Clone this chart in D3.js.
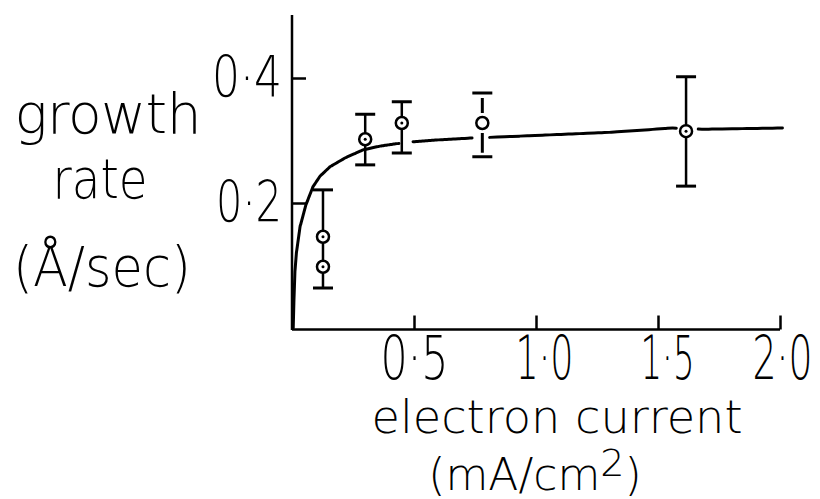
<!DOCTYPE html>
<html><head><meta charset="utf-8">
<script src="https://cdn.jsdelivr.net/npm/d3@7/dist/d3.min.js"></script>
<style>
body{margin:0;background:#fff;}
svg{display:block;}
text{font-family:"DejaVu Sans ExtraLight","DejaVu Sans Light","DejaVu Sans","Noto Sans",sans-serif;font-weight:200;fill:#000;}
</style></head>
<body><svg id="c" width="820" height="499"></svg>
<script>
// ---- data ----
const xTicks = [0.5, 1.0, 1.5, 2.0];
const yTicks = [0.2, 0.4];
const pointX = [0.127, 0.127, 0.30, 0.45, 0.78, 1.615];
const pointY = [0.146, 0.098, 0.302, 0.328, 0.328, 0.315];
const pointDot = [true, true, true, true, false, true];
const errX = [0.127, 0.30, 0.45, 0.78, 1.615];
const errLow = [0.064, 0.261, 0.280, 0.274, 0.227];
const errHigh = [0.221, 0.342, 0.362, 0.376, 0.402];
const curveX = [0.005, 0.008, 0.012, 0.018, 0.033, 0.057, 0.086, 0.115, 0.156, 0.217, 0.291, 0.36, 0.43, 0.496, 0.60, 0.738, 0.81, 1.057, 1.30, 1.56, 1.68, 2.01];
const curveY = [0.000, 0.045, 0.090, 0.120, 0.162, 0.197, 0.226, 0.243, 0.258, 0.272, 0.285, 0.291, 0.295, 0.298, 0.301, 0.304, 0.305, 0.309, 0.313, 0.320, 0.318, 0.320];
const curveGaps = [[0.44, 0.49], [0.745, 0.805], [1.575, 1.665]];

const svg = d3.select("#c");
const x = d3.scaleLinear().domain([0, 2]).range([292, 780]);
const y = d3.scaleLinear().domain([0, 0.4]).range([328, 78]);
const fmt = d => d.toFixed(1).replace(".", "\u00b7");

// horizontally squeeze a text to a target width (keeps its anchor point)
function squeeze(sel, widths, dxs, anchorX) {
  sel.each(function (d, i) {
    const w = this.getComputedTextLength();
    const s = widths[i] / w;
    const ax = anchorX ? anchorX(this) : 0;
    d3.select(this).attr("transform",
      `translate(${ax + (dxs ? dxs[i] : 0)},0) scale(${s},1) translate(${-ax},0)`);
  });
}

// axes lines
svg.append("line").attr("x1", 292).attr("x2", 292).attr("y1", 15).attr("y2", 330)
  .attr("stroke", "#000").attr("stroke-width", 2.5);
svg.append("line").attr("x1", 292).attr("x2", x(2)).attr("y1", 329.5).attr("y2", 329.5)
  .attr("stroke", "#000").attr("stroke-width", 2.5);

const xLabelW = [68, 58, 54, 60];
const xLabelDx = [0, 8, 9, 2];
const gx = svg.append("g").attr("transform", "translate(0,329.5)")
  .call(d3.axisBottom(x).tickValues(xTicks).tickSizeInner(-14).tickSizeOuter(0).tickPadding(6).tickFormat(fmt));
gx.select(".domain").remove();
gx.selectAll(".tick line").attr("stroke", "#000").attr("stroke-width", 2.5);
gx.selectAll(".tick text").attr("font-size", 61).attr("font-family", null);
squeeze(gx.selectAll(".tick text"), xLabelW, xLabelDx);

const yLabelW = [66, 70];
const gy = svg.append("g").attr("transform", "translate(292,0)")
  .call(d3.axisLeft(y).tickValues(yTicks).tickSizeInner(-14).tickSizeOuter(0).tickPadding(10).tickFormat(fmt));
gy.select(".domain").remove();
gy.selectAll(".tick line").attr("stroke", "#000").attr("stroke-width", 2.5);
gy.selectAll(".tick text").attr("font-size", 57).attr("font-family", null);
squeeze(gy.selectAll(".tick text"), yLabelW, null, () => -10);

// curve
const cdata = curveX.map((v, i) => [v, curveY[i]]);
const inGap = v => curveGaps.some(g => v > g[0] && v < g[1]);
const dense = [];
for (let i = 0; i < cdata.length - 1; i++) {
  const [x0, y0] = cdata[i], [x1, y1] = cdata[i + 1];
  const n = 8;
  for (let k = 0; k < n; k++) {
    const t = k / n;
    dense.push([x0 + (x1 - x0) * t, y0 + (y1 - y0) * t]);
  }
}
dense.push(cdata[cdata.length - 1]);
const line = d3.line().defined(d => !inGap(d[0])).x(d => x(d[0])).y(d => y(d[1])).curve(d3.curveMonotoneX);
svg.append("path").attr("d", line(dense)).attr("fill", "none").attr("stroke", "#000").attr("stroke-width", 3).attr("stroke-linecap", "round");

// error bars
const eb = svg.append("g");
errX.forEach((v, i) => {
  const cx = x(v);
  const broken = i === 3;
  if (broken) {
    const py = y(pointY[4]);
    eb.append("line").attr("x1", cx).attr("x2", cx).attr("y1", y(errHigh[i]) + 5).attr("y2", py - 10).attr("stroke", "#000").attr("stroke-width", 3);
    eb.append("line").attr("x1", cx).attr("x2", cx).attr("y1", py + 10).attr("y2", y(errLow[i]) - 4).attr("stroke", "#000").attr("stroke-width", 3);
  } else {
    eb.append("line").attr("x1", cx).attr("x2", cx).attr("y1", y(errHigh[i])).attr("y2", y(errLow[i])).attr("stroke", "#000").attr("stroke-width", 2.5);
  }
  [errHigh[i], errLow[i]].forEach(e => {
    eb.append("line").attr("x1", cx - 10).attr("x2", cx + 10).attr("y1", y(e)).attr("y2", y(e)).attr("stroke", "#000").attr("stroke-width", 3);
  });
});

// points
const pg = svg.append("g");
pointX.forEach((v, i) => {
  pg.append("circle").attr("cx", x(v)).attr("cy", y(pointY[i])).attr("r", 6)
    .attr("fill", "#fff").attr("stroke", "#000").attr("stroke-width", 2.5);
  if (pointDot[i]) pg.append("circle").attr("cx", x(v)).attr("cy", y(pointY[i])).attr("r", 1.5).attr("fill", "#000");
});

// y title
const yt = svg.append("g").attr("font-size", 55).attr("text-anchor", "middle");
yt.append("text").attr("x", 108).attr("y", 133).attr("textLength", 187).attr("lengthAdjust", "spacing").text("growth");
yt.append("text").attr("x", 100).attr("y", 198).attr("textLength", 95).attr("lengthAdjust", "spacingAndGlyphs").text("rate");
yt.append("text").attr("x", 102).attr("y", 286).attr("textLength", 178).attr("lengthAdjust", "spacingAndGlyphs").text("(Å/sec)");

// x title
const xt = svg.append("g").attr("font-size", 46).attr("text-anchor", "middle");
xt.append("text").attr("x", 557).attr("y", 433).attr("textLength", 371).attr("lengthAdjust", "spacingAndGlyphs").text("electron current");
const t2 = xt.append("text").attr("x", 535).attr("y", 490).attr("font-size", 44);
t2.append("tspan").text("(mA/cm");
t2.append("tspan").attr("dy", -14).attr("font-size", 38).text("2");
t2.append("tspan").attr("dy", 14).text(")");
</script></body></html>
